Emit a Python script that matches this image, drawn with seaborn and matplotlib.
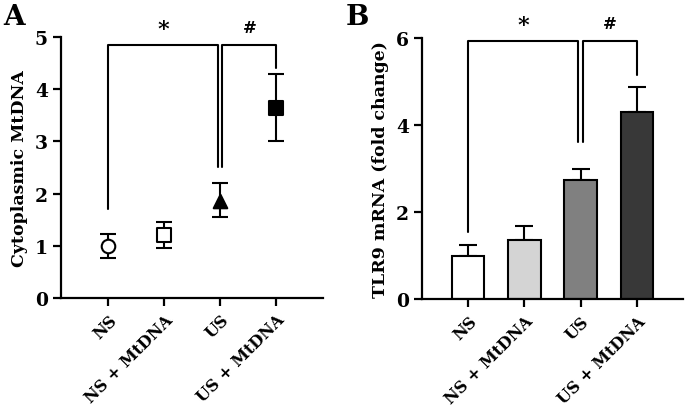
import numpy as np
import pandas as pd
import seaborn as sns
import matplotlib.pyplot as plt

groups = ['NS', 'NS + MtDNA', 'US', 'US + MtDNA']

# Panel A: cytoplasmic MtDNA (mean, lower, upper)
mt_mean = [1.0, 1.2, 1.85, 3.65]
mt_low = [0.77, 0.95, 1.55, 3.0]
mt_high = [1.23, 1.45, 2.2, 4.3]
mt_markers = ['o', 's', '^', 's']
mt_faces = ['white', 'white', 'black', 'black']

# Panel B: TLR9 mRNA fold change (mean, upper error)
tlr_mean = [1.0, 1.36, 2.75, 4.31]
tlr_high = [1.24, 1.69, 2.99, 4.89]
tlr_colors = ['#ffffff', '#d4d4d4', '#808080', '#383838']

sns.set_style('ticks')
plt.rcParams['font.family'] = ['DejaVu Serif']
plt.rcParams['font.weight'] = 'bold'
plt.rcParams['axes.linewidth'] = 1.6
for key in ['text.color', 'axes.labelcolor', 'xtick.color', 'ytick.color', 'axes.edgecolor']:
    plt.rcParams[key] = 'black'

fig = plt.figure(figsize=(6.85, 4.14), dpi=100)
axA = fig.add_axes([0.089, 0.278, 0.383, 0.630])
axB = fig.add_axes([0.616, 0.275, 0.381, 0.630])

x = np.arange(len(groups))

# error bars then markers
axA.errorbar(x, mt_mean,
             yerr=[np.array(mt_mean) - np.array(mt_low), np.array(mt_high) - np.array(mt_mean)],
             fmt='none', ecolor='black', elinewidth=1.5, capsize=6, capthick=1.5, zorder=2)
for i in range(len(groups)):
    sns.scatterplot(x=[x[i]], y=[mt_mean[i]], marker=mt_markers[i], s=95,
                    color=mt_faces[i], edgecolor='black', linewidth=1.5, ax=axA, zorder=3)

axA.set_xlim(-0.84, 3.84)
axA.set_ylim(0, 5)
axA.set_yticks([0, 1, 2, 3, 4, 5])
axA.set_xticks(x)
axA.set_xticklabels(groups, rotation=45, ha='right', rotation_mode='anchor')
axA.set_ylabel('Cytoplasmic MtDNA', fontsize=12.5, fontweight='bold', labelpad=5)

dfB = pd.DataFrame({'group': groups, 'value': tlr_mean})
axB.errorbar(x, tlr_mean, yerr=[np.zeros(4), np.array(tlr_high) - np.array(tlr_mean)],
             fmt='none', ecolor='black', elinewidth=1.5, capsize=6.5, capthick=1.5, zorder=1)
sns.barplot(data=dfB, x='group', y='value', hue='group', palette=tlr_colors, legend=False,
            width=0.58, edgecolor='black', linewidth=1.5, errorbar=None, ax=axB, zorder=2)
axB.set_xlim(-0.82, 3.82)
axB.set_ylim(0, 6)
axB.set_yticks([0, 2, 4, 6])
axB.set_xticks(x)
axB.set_xticklabels(groups, rotation=45, ha='right', rotation_mode='anchor')
axB.set_xlabel('')
axB.set_ylabel('TLR9 mRNA (fold change)', fontsize=12.5, fontweight='bold', labelpad=5)

for ax in (axA, axB):
    sns.despine(ax=ax)
    ax.tick_params(axis='both', width=1.6, length=6, colors='black')
    ax.tick_params(axis='x', labelsize=11.5)
    ax.tick_params(axis='y', labelsize=13.5)
    for lab in ax.get_xticklabels() + ax.get_yticklabels():
        lab.set_fontweight('bold')


def bracket(ax, x1, x2, y, y1, y2, text, ty, size):
    ax.plot([x1, x1, x2, x2], [y1, y, y, y2], color='black', lw=1.5, clip_on=False)
    ax.text((x1 + x2) / 2, ty, text, ha='center', va='center', fontsize=size, fontweight='bold')


bracket(axA, 0, 1.96, 4.85, 1.7, 2.5, '*', 5.15, 16)
bracket(axA, 2.04, 3, 4.85, 2.5, 4.4, '#', 5.18, 12)
bracket(axB, 0, 1.96, 5.94, 1.55, 3.62, '*', 6.3, 16)
bracket(axB, 2.04, 3, 5.94, 3.62, 5.15, '#', 6.35, 12)

fig.text(0.005, 0.99, 'A', fontsize=20, fontweight='bold', va='top')
fig.text(0.505, 0.99, 'B', fontsize=20, fontweight='bold', va='top')

fig.savefig('out.png', dpi=100)
